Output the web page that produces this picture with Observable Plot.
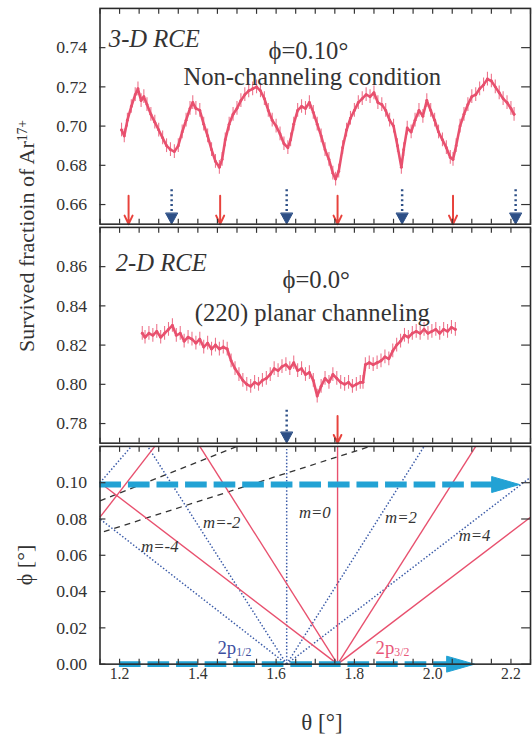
<!DOCTYPE html>
<html><head><meta charset="utf-8">
<script src="https://cdn.jsdelivr.net/npm/d3@7"></script>
<script src="https://cdn.jsdelivr.net/npm/@observablehq/plot@0.6"></script>
<style>
body{margin:0;background:#fff;}
#wrap{position:relative;width:532px;height:737px;overflow:hidden;font-family:"Liberation Serif","DejaVu Serif",serif;color:#333;background:#fff;}
#wrap svg, #wrap svg text, #wrap svg tspan{font-family:"Liberation Serif","DejaVu Serif",serif !important;}
.p{position:absolute;left:0;}
.t{position:absolute;white-space:nowrap;transform:translate(-50%,-50%);}
.r{transform:translate(-50%,-50%) rotate(-90deg);}
sup{font-size:62%;vertical-align:0.55em;line-height:0;}
</style></head><body><div id="wrap"></div>
<script>
// ---------- data ----------
const thetaTop = [1.205,1.212,1.22,1.23,1.24,1.247,1.255,1.262,1.27,1.28,1.29,1.30,1.31,1.32,1.33,1.34,1.35,1.36,1.37,1.38,1.387,1.395,1.405,1.415,1.425,1.435,1.445,1.455,1.462,1.47,1.48,1.49,1.50,1.51,1.52,1.53,1.54,1.55,1.56,1.57,1.58,1.59,1.60,1.61,1.62,1.63,1.637,1.645,1.655,1.665,1.675,1.685,1.695,1.705,1.715,1.725,1.735,1.745,1.752,1.76,1.77,1.78,1.79,1.80,1.81,1.82,1.83,1.84,1.85,1.86,1.87,1.88,1.89,1.90,1.91,1.92,1.926,1.935,1.945,1.955,1.965,1.975,1.985,1.995,2.005,2.015,2.025,2.035,2.045,2.052,2.06,2.07,2.08,2.09,2.10,2.11,2.12,2.13,2.14,2.15,2.16,2.17,2.18,2.19,2.20,2.208];
const survTop = [0.698,0.695,0.703,0.710,0.716,0.719,0.713,0.715,0.711,0.706,0.702,0.698,0.694,0.690,0.688,0.687,0.690,0.697,0.703,0.709,0.712,0.709,0.708,0.701,0.695,0.688,0.682,0.679,0.683,0.693,0.701,0.706,0.709,0.713,0.716,0.718,0.719,0.720,0.718,0.714,0.708,0.703,0.700,0.696,0.691,0.689,0.693,0.701,0.708,0.710,0.709,0.712,0.707,0.701,0.695,0.688,0.683,0.676,0.673,0.677,0.689,0.698,0.704,0.708,0.712,0.714,0.716,0.715,0.717,0.712,0.711,0.708,0.703,0.700,0.690,0.679,0.688,0.699,0.697,0.703,0.708,0.705,0.713,0.708,0.703,0.697,0.693,0.689,0.684,0.683,0.690,0.700,0.706,0.711,0.715,0.716,0.719,0.721,0.724,0.723,0.720,0.717,0.714,0.712,0.709,0.706];
const thetaMid = [1.258,1.265,1.275,1.285,1.295,1.305,1.315,1.325,1.335,1.345,1.355,1.365,1.375,1.385,1.395,1.405,1.415,1.425,1.435,1.445,1.455,1.465,1.475,1.485,1.495,1.505,1.515,1.525,1.535,1.545,1.555,1.565,1.575,1.585,1.595,1.605,1.615,1.625,1.635,1.645,1.655,1.665,1.675,1.685,1.695,1.705,1.715,1.725,1.735,1.745,1.755,1.765,1.775,1.785,1.795,1.805,1.815,1.822,1.828,1.838,1.848,1.858,1.868,1.878,1.888,1.898,1.908,1.918,1.928,1.938,1.948,1.958,1.968,1.978,1.988,1.998,2.008,2.018,2.028,2.038,2.048,2.058];
const survMid = [0.826,0.824,0.826,0.825,0.827,0.824,0.826,0.828,0.830,0.825,0.826,0.822,0.824,0.823,0.821,0.823,0.819,0.821,0.818,0.820,0.818,0.819,0.818,0.812,0.808,0.805,0.802,0.800,0.799,0.801,0.800,0.802,0.803,0.805,0.808,0.807,0.809,0.810,0.808,0.811,0.807,0.808,0.805,0.806,0.802,0.794,0.799,0.803,0.801,0.805,0.803,0.801,0.800,0.801,0.799,0.800,0.801,0.801,0.810,0.811,0.810,0.811,0.812,0.814,0.813,0.817,0.820,0.822,0.825,0.824,0.826,0.827,0.826,0.828,0.826,0.827,0.828,0.826,0.828,0.827,0.829,0.828];
const errBar = 0.0035;

const redArrowTop = [1.223, 1.457, 1.757, 2.052];
const blueArrowTop = [1.333, 1.627, 1.922, 2.212];
const redArrowMid = [1.757];
const blueArrowMid = [1.627];
const arrowTopStart = 0.6645, arrowTopEnd = 0.65;
const arrowMidStart = 0.7838, arrowMidEnd = 0.77;

// bottom panel: [theta1, phi1, theta2, phi2]
const redLines = [[1.757,0,1.757,0.12],[1.757,0,1.405,0.12],[1.757,0,1.15,0.10],[1.757,0,2.11,0.12],[1.757,0,2.25,0.081],[1.15,0.081,1.29,0.12]];
const blueLines = [[1.627,0,1.627,0.12],[1.627,0,1.272,0.12],[1.627,0,1.15,0.08],[1.627,0,1.978,0.12],[1.627,0,2.25,0.103],[1.15,0.10,1.23,0.12]];
const dashedLines = [[1.15,0.090,1.50,0.12],[1.16,0.073,1.84,0.12]];
const cyanPhi = [0.099, 0.0];
const cyanStart = [1.21, 1.26];
const cyanEnd = [2.222, 2.107];
const mLabels = ["m=0","m=2","m=4","m=-2","m=-4"];
const mTheta = [1.699, 1.919, 2.107, 1.461, 1.303];
const mPhi = [0.0837, 0.081, 0.0707, 0.078, 0.0647];
const levelMain = ["2p","2p"], levelSub = ["1/2","3/2"];
const levelTheta = [1.498, 1.902], levelPhi = [0.009, 0.009];

const xLabelTicks = [1.2,1.4,1.6,1.8,2.0,2.2];
const xMinorTicks = d3.range(23,46).map(k => k*0.05);
const yTicksTop = [0.66,0.68,0.70,0.72,0.74];
const yTicksMid = [0.78,0.80,0.82,0.84,0.86];
const yTicksBot = [0.00,0.02,0.04,0.06,0.08,0.10];

// ---------- helpers ----------
const RED = "#e8506e", ARROWRED = "#e8423c", NAVY = "#2d4f86", CYAN = "#22a2d4";
const headShape = {draw(ctx, l, r){ ctx.moveTo(-r,0); ctx.lineTo(0,-l); ctx.lineTo(r,0); ctx.closePath(); }};
const FONT = "Liberation Serif";

function frameAxes(yTicks, fmt, labels) {
  return [
    Plot.frame({stroke:"#2a2a2a", strokeWidth:1.6}),
    Plot.axisY({ticks:yTicks, anchor:"left", tickSize:-6, tickPadding:19, fontSize:18, fontFamily:FONT, tickFormat:fmt, label:null, strokeWidth:1.2}),
    Plot.axisY({ticks:yTicks, anchor:"right", tickSize:-10, tickFormat:()=>"", label:null, strokeWidth:1.2}),
    Plot.axisX({ticks:xMinorTicks, anchor:"top", tickSize:-5, tickFormat:()=>"", label:null, strokeWidth:1.2}),
    Plot.axisX({ticks:xMinorTicks, anchor:"bottom", tickSize:-5, tickFormat:()=>"", label:null, strokeWidth:1.2}),
    ...(labels ? [Plot.axisX({ticks:xLabelTicks, anchor:"bottom", tickSize:0, tickPadding:4, fontSize:16, fontFamily:FONT, tickFormat:d3.format(".1f"), label:null})] : [])
  ];
}

function basePlot(height, marginBottom, yDomain, marks) {
  return Plot.plot({
    width:540, height, marginLeft:101, marginRight:2, marginTop:5, marginBottom,
    style:{background:"transparent", overflow:"visible", color:"#333"},
    x:{domain:[1.15,2.25]}, y:{domain:yDomain},
    marks
  });
}

function dataMarks(th, sv) {
  const idx = d3.range(th.length);
  return [
    Plot.ruleX(idx, {x:i=>th[i], y1:i=>sv[i]-errBar, y2:i=>sv[i]+errBar, stroke:RED, strokeWidth:1.1, strokeOpacity:0.8}),
    Plot.line(idx, {x:i=>th[i], y:i=>sv[i], stroke:RED, strokeWidth:2.6}),
    Plot.dot(idx, {x:i=>th[i], y:i=>sv[i], r:1.5, fill:RED})
  ];
}

function arrowMarks(reds, blues, y1, y2) {
  return [
    Plot.arrow(reds, {x:d=>d, y1:y1, y2:y2, stroke:ARROWRED, strokeWidth:2, headLength:12, headAngle:50}),
    Plot.ruleX(blues, {x:d=>d, y1:y1, y2:y2, stroke:NAVY, strokeWidth:2.5, strokeDasharray:"2,3", dy:-6}),
    Plot.vector(blues, {x:d=>d, y:y2, rotate:180, length:11, r:6, anchor:"end", shape:headShape, fill:NAVY, stroke:NAVY, strokeWidth:1})
  ];
}

const txt = (s, o) => Plot.text([s], {fontSize:25, fill:"#333", fontFamily:FONT, ...o});

const wrap = document.getElementById("wrap");
function place(svg, top) { svg.classList.add("p"); svg.style.top = top + "px"; wrap.appendChild(svg); }

// ---------- panel 1 ----------
const p1 = basePlot(229, 5, [0.65,0.76], [
  ...dataMarks(thetaTop, survTop),
  ...arrowMarks(redArrowTop, blueArrowTop, arrowTopStart, arrowTopEnd),
  txt("3-D RCE", {frameAnchor:"top-left", dx:9, dy:21, fontStyle:"italic", textAnchor:"start"}),
  txt("ϕ=0.10°", {frameAnchor:"top", dx:-7, dy:34}),
  txt("Non-channeling condition", {frameAnchor:"top", dx:-3, dy:60}),
  ...frameAxes(yTicksTop, d3.format(".2f"), false)
]);
place(p1, 3);

// ---------- panel 2 ----------
const p2 = basePlot(229, 5, [0.77,0.88], [
  ...dataMarks(thetaMid, survMid),
  ...arrowMarks(redArrowMid, blueArrowMid, arrowMidStart, arrowMidEnd),
  txt("2-D RCE", {frameAnchor:"top-left", dx:16, dy:26, fontStyle:"italic", textAnchor:"start"}),
  txt("ϕ=0.0°", {frameAnchor:"top", dx:1, dy:44}),
  txt("(220) planar channeling", {frameAnchor:"top", dx:-3, dy:77}),
  ...frameAxes(yTicksMid, d3.format(".2f"), false)
]);
place(p2, 222);

// ---------- panel 3 ----------
const ci = d3.range(cyanPhi.length);
const mi = d3.range(mLabels.length);
const li = d3.range(levelMain.length);
const link = (arr, opts) => Plot.link(arr, {x1:d=>d[0], y1:d=>d[1], x2:d=>d[2], y2:d=>d[3], ...opts});
const p3 = basePlot(256, 30, [0,0.12], [
  link(dashedLines, {stroke:"#333", strokeWidth:1.3, strokeDasharray:"6,5"}),
  link(blueLines, {stroke:"#3b5ba8", strokeWidth:1.5, strokeDasharray:"1.5,2"}),
  link(redLines, {stroke:RED, strokeWidth:1.4}),
  Plot.ruleY(ci, {y:i=>cyanPhi[i], x1:i=>cyanStart[i], x2:i=>cyanEnd[i], stroke:CYAN, strokeWidth:6, strokeDasharray:"22,7", dx:-24}),
  Plot.vector(ci, {x:i=>cyanEnd[i], y:i=>cyanPhi[i], rotate:90, length:28, r:8, anchor:"end", shape:headShape, fill:CYAN, stroke:CYAN, strokeWidth:1}),
  Plot.text(mi, {x:i=>mTheta[i], y:i=>mPhi[i], text:i=>mLabels[i], fontSize:17, fontStyle:"italic", fontFamily:FONT, fill:"#333"}),
  Plot.text(li, {x:i=>levelTheta[i], y:i=>levelPhi[i], text:i=>levelMain[i], textAnchor:"end", fontSize:19, fontFamily:FONT, fill:i=>i===0?"#3d4f9f":"#e8577a"}),
  Plot.text(li, {x:i=>levelTheta[i], y:i=>levelPhi[i], text:i=>levelSub[i], textAnchor:"start", dy:4, fontSize:12, fontFamily:FONT, fill:i=>i===0?"#3d4f9f":"#e8577a"}),
  ...frameAxes(yTicksBot, d3.format(".2f"), true)
]);
place(p3, 441);

// ---------- titles ----------
function addText(html, x, y, size, rot) {
  const d = document.createElement("div");
  d.className = "t" + (rot ? " r" : "");
  d.style.left = x + "px"; d.style.top = y + "px"; d.style.fontSize = size + "px";
  d.innerHTML = html; wrap.appendChild(d);
}
addText("Survived fractioin of Ar<sup>17+</sup>", 27, 236, 22, true);
addText("ϕ [°]", 25, 565, 22, true);
addText("θ [°]", 322, 723, 23, false);
</script></body></html>
